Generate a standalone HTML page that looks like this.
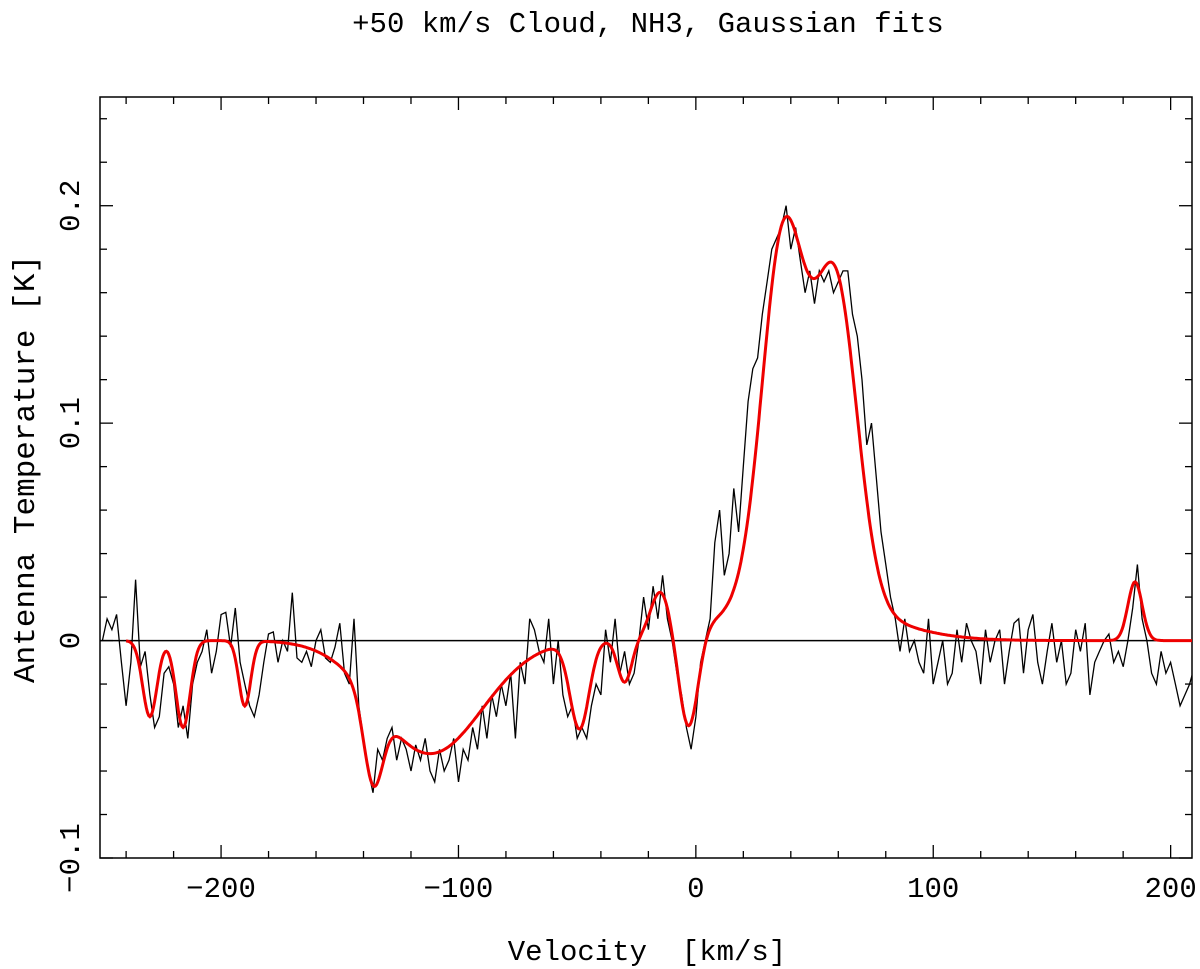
<!DOCTYPE html>
<html><head><meta charset="utf-8"><style>
body{margin:0;background:#fff}
svg{display:block;font-family:"Liberation Mono",monospace}
</style></head><body>
<svg id="chart" width="1200" height="969" viewBox="0 0 1200 969">
<defs><clipPath id="pc"><rect x="100" y="97" width="1092" height="761"/></clipPath></defs>
<text x="648" y="32" font-size="29" text-anchor="middle">+50 km/s Cloud, NH3, Gaussian fits</text>
<text x="647" y="960" font-size="29" text-anchor="middle" xml:space="preserve">Velocity  [km/s]</text>
<text transform="translate(34,469) rotate(-90)" font-size="31" text-anchor="middle">Antenna Temperature [K]</text>
<g id="plot"></g>
</svg>
<script>
const xTicks=[-200,-100,0,100,200];
const yTicks=[-0.1,0,0.1,0.2];
const yTickLabels=["−0.1","0","0.1","0.2"];
const vStart=-250, vStep=2;
const tData=[0.0,0.01,0.005,0.012,-0.01,-0.03,-0.01,0.028,-0.012,-0.005,-0.025,-0.04,
-0.035,-0.015,-0.012,-0.02,-0.04,-0.03,-0.045,-0.02,-0.01,-0.005,
0.005,-0.015,-0.005,0.012,0.013,-0.003,0.015,-0.01,-0.02,-0.03,
-0.035,-0.025,-0.01,0.003,0.004,-0.01,0.0,-0.005,0.022,-0.008,
-0.01,-0.005,-0.012,0.0,0.005,-0.008,-0.01,-0.003,0.008,-0.015,
-0.02,0.01,-0.03,-0.045,-0.06,-0.07,-0.05,-0.055,-0.045,-0.04,
-0.055,-0.045,-0.05,-0.06,-0.048,-0.055,-0.045,-0.06,-0.065,-0.05,
-0.06,-0.055,-0.045,-0.065,-0.05,-0.055,-0.04,-0.05,-0.03,-0.045,
-0.025,-0.035,-0.02,-0.03,-0.015,-0.045,-0.01,-0.02,0.01,0.005,
-0.005,-0.01,0.01,-0.02,0.0,-0.025,-0.035,-0.03,-0.045,-0.04,
-0.045,-0.03,-0.02,-0.025,0.005,-0.01,0.01,-0.015,-0.005,-0.02,
-0.015,0.0,0.02,0.005,0.025,0.01,0.03,0.01,0.0,-0.015,
-0.025,-0.04,-0.05,-0.035,-0.01,0.0,0.01,0.045,0.06,0.03,
0.04,0.07,0.05,0.08,0.11,0.125,0.13,0.15,0.165,0.18,
0.185,0.19,0.2,0.18,0.19,0.175,0.16,0.17,0.155,0.17,
0.165,0.17,0.16,0.165,0.17,0.17,0.15,0.14,0.12,0.09,
0.1,0.075,0.05,0.035,0.02,0.01,-0.005,0.01,-0.005,0.0,
-0.01,-0.015,0.01,-0.02,-0.01,0.0,-0.02,-0.015,0.005,-0.01,
0.008,0.0,-0.005,-0.02,0.005,-0.01,0.0,0.005,-0.02,-0.005,
0.008,0.01,-0.015,0.005,0.012,-0.01,-0.02,-0.005,0.008,-0.01,
0.0,-0.02,-0.015,0.005,-0.005,0.008,-0.025,-0.01,-0.005,0.0,
0.003,-0.01,-0.005,-0.012,0.0,0.015,0.035,0.01,0.0,-0.015,
-0.02,-0.005,-0.015,-0.01,-0.02,-0.03,-0.025,-0.02,-0.012,-0.01];
const gAmp=[-0.035,-0.04,-0.03,-0.052,-0.038,-0.04,-0.02,0.02,-0.045,0.167,0.145,0.02,0.027];
const gCen=[-230,-216,-190,-112,-136,-49,-30,-15,-3,37,59,45,185];
const gSig=[3,3,2.5,22,4,4,3,4,4,9,9,30,3];

const L=100,R=1192,T=97,B=858,XMIN=-251,XMAX=209,YMIN=-0.1,YMAX=0.25;
const X=v=>L+(v-XMIN)/(XMAX-XMIN)*(R-L);
const Y=t=>B-(t-YMIN)/(YMAX-YMIN)*(B-T);
const NS='http://www.w3.org/2000/svg';
const g=document.getElementById('plot');
function mk(tag,attrs){const e=document.createElementNS(NS,tag);for(const k in attrs)e.setAttribute(k,attrs[k]);g.appendChild(e);return e;}
let frame=mk('rect',{x:L,y:T,width:R-L,height:B-T,fill:'none',stroke:'#000','stroke-width':1.5});


for(let v=-240;v<=200;v+=20){const maj=v%100===0;const len=maj?13:7;
 const a=mk('line',{x1:X(v),x2:X(v),y1:B,y2:B-len,stroke:'#000','stroke-width':1.3});
 
 
 const b=mk('line',{x1:X(v),x2:X(v),y1:T,y2:T+len,stroke:'#000','stroke-width':1.3});
 
 }
for(let i=-5;i<=12;i++){const t=i*0.02;const maj=i%5===0;const len=maj?13:7;
 const a=mk('line',{x1:L,x2:L+len,y1:Y(t),y2:Y(t),stroke:'#000','stroke-width':1.3});
 
 
 const b=mk('line',{x1:R,x2:R-len,y1:Y(t),y2:Y(t),stroke:'#000','stroke-width':1.3});
 
 }
xTicks.forEach(v=>{const t=mk('text',{x:X(v),y:897,'font-size':29,'text-anchor':'middle'});t.textContent=v<0?'−'+(-v):String(v);
 
 });
yTicks.forEach((v,i)=>{const t=mk('text',{transform:`translate(79,${Y(v)}) rotate(-90)`,'font-size':29,'text-anchor':'middle'});t.textContent=yTickLabels[i];
 
 });
const zl=mk('line',{x1:L,x2:R,y1:Y(0),y2:Y(0),stroke:'#000','stroke-width':1.5});


let d='';tData.forEach((t,i)=>{d+=(i?'L':'M')+X(vStart+i*vStep).toFixed(1)+','+Y(t).toFixed(1);});
const sp=mk('path',{d:d,fill:'none',stroke:'#000','stroke-width':1.3,'clip-path':'url(#pc)'});


let f='';for(let v=-240;v<=XMAX;v+=0.5){let s=0;for(let k=0;k<gAmp.length;k++)s+=gAmp[k]*Math.exp(-((v-gCen[k])**2)/(2*gSig[k]**2));f+=(f?'L':'M')+X(v).toFixed(1)+','+Y(s).toFixed(1);}
const fit=mk('path',{d:f,fill:'none',stroke:'#e00','stroke-width':3,'clip-path':'url(#pc)'});


</script>
</body></html>
